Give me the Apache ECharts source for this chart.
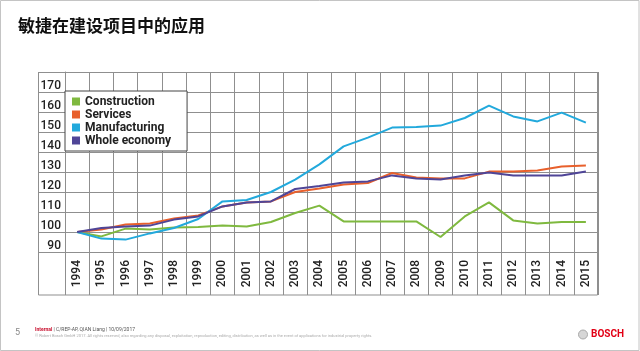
<!DOCTYPE html>
<html>
<head>
<meta charset="utf-8">
<script src="https://cdn.jsdelivr.net/npm/echarts@6/dist/echarts.min.js"></script>
<style>
  html, body { margin: 0; padding: 0; background: #fff; }
  #chart { width: 640px; height: 351px; }
</style>
</head>
<body>
<div id="chart"></div>
<script>
// 数据
const years = ['1994','1995','1996','1997','1998','1999','2000','2001','2002','2003','2004',
               '2005','2006','2007','2008','2009','2010','2011','2012','2013','2014','2015'];
const construction = [100, 97.8, 101.7, 101.3, 102.2, 102.5, 103.2, 102.7, 105, 109.5, 113.2,
                      105.3, 105.3, 105.3, 105.3, 97.5, 107.8, 114.8, 105.8, 104.2, 105, 105];
const services = [100, 101.2, 103.7, 104.3, 106.8, 108.3, 112.8, 114.7, 115.3, 120, 121.7,
                  123.8, 124.5, 129.5, 127.2, 126.7, 126.8, 130.2, 130.3, 130.8, 132.8, 133.3];
const manufacturing = [100, 96.7, 96.2, 99.3, 102, 106.5, 115.3, 116, 120, 126.2, 133.8,
                       142.8, 147.2, 152.2, 152.5, 153.2, 157, 163.2, 157.8, 155.3, 159.7, 154.7];
const wholeEconomy = [100, 102, 102.8, 103.2, 106.2, 107.8, 112.8, 114.7, 115.3, 121.5, 123,
                      124.7, 125.3, 128.3, 126.7, 126.2, 128.2, 129.8, 128.2, 128.2, 128.2, 130.2];
const seriesNames = ['Construction', 'Services', 'Manufacturing', 'Whole economy'];
const seriesColors = ['#7fb93f', '#e8602c', '#22a9dc', '#4f4597'];

const gridColor = '#8f8f8f';
const labelFont = 'Roboto';

const chart = echarts.init(document.getElementById('chart'));

const option = {
    animation: false,
    title: {
        text: '敏捷在建设项目中的应用',
        left: 13,
        top: 12,
        textStyle: {
            fontFamily: 'Noto Sans CJK SC',
            fontSize: 17,
            fontWeight: 'bold',
            color: '#111'
        }
    },
    legend: {
        orient: 'vertical',
        left: 65,
        top: 91,
        padding: [4, 16, 4, 7],
        itemWidth: 8,
        itemHeight: 8,
        itemGap: 0,
        icon: 'rect',
        backgroundColor: '#fff',
        borderColor: '#444',
        borderWidth: 1,
        textStyle: {
            fontFamily: labelFont,
            fontSize: 12,
            fontWeight: 'bold',
            color: '#222',
            lineHeight: 13
        },
        data: seriesNames
    },
    grid: {
        left: 65,
        right: 42,
        top: 72,
        bottom: 99,
        containLabel: false
    },
    xAxis: {
        type: 'category',
        data: years,
        boundaryGap: true,
        axisLine: { show: true, lineStyle: { color: gridColor, width: 1 } },
        axisTick: { show: true, length: 43, lineStyle: { color: gridColor } },
        splitLine: { show: true, lineStyle: { color: gridColor, width: 1 } },
        axisLabel: {
            rotate: 90,
            margin: 8,
            interval: 0,
            fontFamily: labelFont,
            fontSize: 12,
            fontWeight: 500,
            color: '#222'
        }
    },
    yAxis: {
        type: 'value',
        min: 90,
        max: 180,
        interval: 10,
        axisLine: { show: true, lineStyle: { color: gridColor, width: 1 } },
        axisTick: { show: true, length: 27, lineStyle: { color: gridColor } },
        splitLine: { show: true, lineStyle: { color: gridColor, width: 1 } },
        axisLabel: {
            margin: 4,
            verticalAlign: 'bottom',
            fontFamily: labelFont,
            fontSize: 12,
            fontWeight: 500,
            color: '#222',
            formatter: v => (v >= 180 ? '' : String(v))
        }
    },
    series: [construction, services, manufacturing, wholeEconomy].map((d, i) => ({
        name: seriesNames[i],
        type: 'line',
        data: d,
        symbol: 'none',
        z: 3,
        itemStyle: { color: seriesColors[i] },
        lineStyle: { color: seriesColors[i], width: 2 }
    })),
    graphic: [
        // 幻灯片边框
        {
            type: 'rect', silent: true, z: -1,
            shape: { x: 0.5, y: 0.5, width: 638.5, height: 350 },
            style: { fill: 'none', stroke: '#c4c4c4', lineWidth: 1 }
        },
        // 图表外框
        {
            type: 'rect', silent: true,
            shape: { x: 38.5, y: 72.5, width: 559, height: 222.5 },
            style: { fill: 'none', stroke: gridColor, lineWidth: 1 }
        },
        // 页脚
        {
            type: 'text', left: 15, top: 328,
            style: { text: '5', font: '9px Roboto', fill: '#888' }
        },
        {
            type: 'text', left: 35, top: 327,
            style: {
                text: '{r|Internal} | C/REP-AP, QIAN Liang | 10/09/2017',
                font: '5px Roboto',
                fill: '#555',
                rich: { r: { fill: '#c8102e', fontWeight: 'bold', fontSize: 5, fontFamily: 'Roboto' } }
            }
        },
        {
            type: 'text', left: 35, top: 334,
            style: {
                text: '© Robert Bosch GmbH 2017. All rights reserved, also regarding any disposal, exploitation, reproduction, editing, distribution, as well as in the event of applications for industrial property rights.',
                font: '4px Roboto',
                fill: '#aaa'
            }
        },
        {
            type: 'circle', silent: true,
            shape: { cx: 583, cy: 334.5, r: 4.5 },
            style: { fill: '#d6d6d6', stroke: '#a8a8a8', lineWidth: 1 }
        },
        {
            type: 'text', left: 591, top: 329,
            style: { text: 'BOSCH', font: 'bold 10px Roboto', fill: '#e20015' }
        }
    ]
};

chart.setOption(option);
</script>
</body>
</html>
